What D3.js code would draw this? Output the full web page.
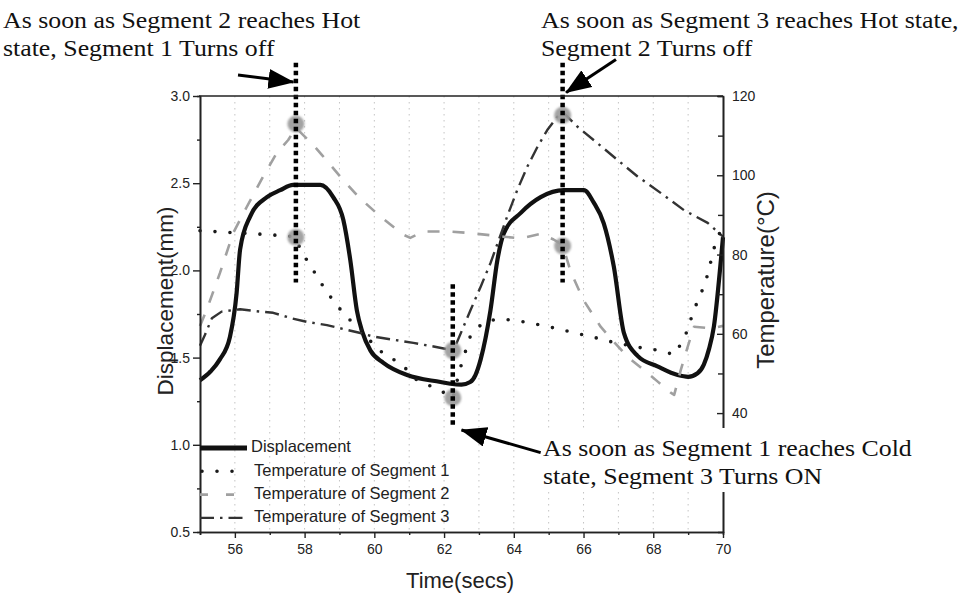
<!DOCTYPE html>
<html>
<head>
<meta charset="utf-8">
<script src="https://cdn.jsdelivr.net/npm/d3@7"></script>
<style>
  body { margin: 0; background: #fff; }
  svg { display: block; }
</style>
</head>
<body>
<svg id="chart" width="973" height="597"></svg>
<script>
// ---- data -------------------------------------------------------------
const timeTicks = [56, 58, 60, 62, 64, 66, 68, 70];
const timeMinorTicks = [55, 57, 59, 61, 63, 65, 67, 69];
const gridTimes = [56, 57, 58, 59, 60, 61, 62, 63, 64, 65, 66, 67, 68, 69];
const dispTicks = [0.5, 1.0, 1.5, 2.0, 2.5, 3.0];
const dispMinorTicks = [0.75, 1.25, 1.75, 2.25, 2.75];
const tempTicks = [40, 60, 80, 100, 120];
const tempMinorTicks = [50, 70, 90, 110];

// displacement (mm) vs time (s)
const displacement = [
  [55.0, 1.37], [55.3, 1.42], [55.57, 1.49], [55.86, 1.62], [56.05, 1.87],
  [56.15, 2.12], [56.44, 2.31], [56.92, 2.42], [57.3, 2.46], [57.67, 2.49],
  [58.0, 2.49], [58.45, 2.49], [58.82, 2.42], [59.11, 2.29], [59.31, 2.06],
  [59.5, 1.77], [59.65, 1.65], [59.89, 1.54], [60.26, 1.47], [60.94, 1.40],
  [61.9, 1.36], [62.18, 1.35], [62.5, 1.345], [62.75, 1.36], [62.9, 1.40],
  [63.05, 1.49], [63.33, 1.77], [63.53, 2.06], [63.71, 2.21], [64.2, 2.33],
  [64.77, 2.42], [65.43, 2.46], [66.01, 2.46], [66.29, 2.39], [66.58, 2.27],
  [66.87, 2.02], [67.16, 1.64], [67.55, 1.51], [68.12, 1.45], [68.7, 1.40],
  [69.0, 1.39], [69.27, 1.41], [69.45, 1.46], [69.6, 1.55], [69.74, 1.68],
  [69.94, 2.06], [70.0, 2.19]
];

// temperatures (°C) vs time (s)
const seg1Temp = [
  [55.0, 86.0], [56.0, 85.5], [57.0, 85.0], [57.7, 84.5], [58.0, 79.5],
  [58.3, 75.3], [58.6, 71.0], [58.95, 66.9], [59.3, 63.5], [59.7, 60.5],
  [60.0, 56.8], [60.4, 54.2], [60.75, 52.6], [61.2, 48.5], [61.95, 45.4],
  [62.25, 43.7], [62.45, 50.9], [62.6, 55.2], [62.75, 59.3], [63.1, 62.7],
  [63.5, 63.7], [63.9, 63.5], [64.3, 63.0], [64.77, 62.2], [65.2, 61.4],
  [65.63, 60.5], [66.0, 59.7], [66.5, 58.7], [66.87, 57.8], [67.7, 56.4],
  [68.2, 55.8], [68.6, 54.7], [68.9, 59.0], [69.05, 63.0], [69.25, 67.8],
  [69.45, 71.9], [69.6, 76.1], [69.7, 80.4], [69.85, 84.5], [70.0, 87.0]
];
const seg2Temp = [
  [55.0, 62.0], [55.19, 66.0], [55.57, 75.3], [55.95, 85.4], [56.34, 92.0],
  [56.81, 99.7], [57.2, 105.6], [57.53, 108.9], [57.75, 112.0], [58.25, 107.6],
  [58.5, 105.1], [59.02, 99.7], [59.54, 94.6], [60.17, 89.6], [60.83, 85.0],
  [61.03, 84.2], [61.41, 85.8], [62.18, 85.8], [62.76, 85.4], [63.71, 84.5],
  [64.2, 84.1], [64.77, 85.2], [65.14, 83.8], [65.4, 82.4], [65.63, 75.7],
  [66.0, 68.5], [66.49, 61.8], [66.87, 58.0], [67.26, 54.2], [67.73, 50.9],
  [68.12, 48.0], [68.51, 45.1], [68.6, 44.6], [68.79, 50.9], [68.99, 56.8],
  [69.17, 61.8], [69.66, 61.4], [70.0, 62.0]
];
const seg3Temp = [
  [55.0, 57.0], [55.14, 59.7], [55.34, 63.9], [55.62, 65.6], [56.15, 66.2],
  [56.52, 65.8], [57.1, 65.3], [57.59, 64.0], [58.07, 63.0], [58.64, 62.2],
  [59.02, 61.4], [59.6, 60.2], [59.97, 59.3], [60.55, 58.5], [61.12, 57.7],
  [61.7, 56.8], [62.27, 55.8], [62.76, 66.0], [63.05, 71.9], [63.33, 77.8],
  [63.81, 89.6], [64.1, 96.3], [64.39, 102.2], [64.68, 107.2], [64.96, 111.4],
  [65.25, 114.8], [65.4, 116.0], [65.82, 112.3], [66.4, 108.1], [66.97, 103.9],
  [67.55, 99.7], [68.22, 95.5], [68.88, 91.2], [69.56, 88.0], [70.0, 84.5]
];

// switching events: time, highlighted points (mm), extent of the marker line (mm)
const eventTimes = [57.75, 62.25, 65.4];
const eventPoints = [[2.84, 2.19], [1.54, 1.27], [2.89, 2.14]];
const eventSpans = [[3.19, 1.93], [1.92, 1.10], [3.19, 1.93]];

// annotation arrows: [tailTime, tailMm, headTime, headMm]
const arrows = [
  [56.09, 3.12, 57.68, 3.08],
  [66.93, 3.21, 65.5, 3.02],
  [64.77, 0.955, 62.5, 1.085]
];

const legendLabels = ["Displacement", "Temperature of Segment 1",
                      "Temperature of Segment 2", "Temperature of Segment 3"];

// ---- layout -----------------------------------------------------------
const svg = d3.select("#chart");
const x = d3.scaleLinear().domain([55, 70]).range([200, 723]);
const yL = d3.scaleLinear().domain([0.5, 3.0]).range([532, 96]);
const yR = d3.scaleLinear().domain([10, 120]).range([532, 96]);

const sans = "'Liberation Sans', Arial, sans-serif";
const serif = "'Liberation Serif', 'Times New Roman', serif";

const styles = [
  { stroke: "#111", width: 4.2, dash: null, cap: "butt" },
  { stroke: "#1a1a1a", width: 3.6, dash: "0,15", cap: "round" },
  { stroke: "#a0a0a0", width: 2.6, dash: "12,13", cap: "butt" },
  { stroke: "#333", width: 2.4, dash: "14,6,2.5,6", cap: "butt" }
];

// ---- grid ----------------------------------------------------------------
svg.append("g").selectAll("line").data(gridTimes).join("line")
  .attr("x1", d => x(d)).attr("x2", d => x(d))
  .attr("y1", yL(3.0)).attr("y2", yL(0.5))
  .attr("stroke", "#c4c4c4").attr("stroke-width", 1)
  .attr("stroke-dasharray", "1.5,4.5");

// ---- curves --------------------------------------------------------------
const lineL = d3.line().x(d => x(d[0])).y(d => yL(d[1])).curve(d3.curveMonotoneX);
const lineR = d3.line().x(d => x(d[0])).y(d => yR(d[1]));

const series = [
  { data: displacement, gen: lineL, st: styles[0] },
  { data: seg3Temp, gen: lineR, st: styles[3] },
  { data: seg2Temp, gen: lineR, st: styles[2] },
  { data: seg1Temp, gen: lineR, st: styles[1] }
];
series.forEach(s => {
  svg.append("path").datum(s.data)
    .attr("d", s.gen)
    .attr("fill", "none")
    .attr("stroke", s.st.stroke)
    .attr("stroke-width", s.st.width)
    .attr("stroke-linecap", s.st.cap)
    .attr("stroke-linejoin", "round")
    .attr("stroke-dasharray", s.st.dash);
});

// ---- event markers -------------------------------------------------------
const defs = svg.append("defs");
defs.append("filter").attr("id", "soft")
  .append("feGaussianBlur").attr("stdDeviation", 0.9);
defs.append("marker").attr("id", "head")
  .attr("viewBox", "0 0 26 20").attr("refX", 25).attr("refY", 10)
  .attr("markerWidth", 26).attr("markerHeight", 20)
  .attr("markerUnits", "userSpaceOnUse").attr("orient", "auto")
  .append("path").attr("d", "M0,0 L26,10 L0,20 Z").attr("fill", "#000");

eventTimes.forEach((t, i) => {
  eventPoints[i].forEach(v => {
    svg.append("circle")
      .attr("cx", x(t)).attr("cy", yL(v)).attr("r", 8.5)
      .attr("fill", "#9a9a9a").attr("opacity", 0.9)
      .attr("filter", "url(#soft)");
  });
  svg.append("line")
    .attr("x1", x(t)).attr("x2", x(t))
    .attr("y1", yL(eventSpans[i][0])).attr("y2", yL(eventSpans[i][1]))
    .attr("stroke", "#000").attr("stroke-width", 4.5)
    .attr("stroke-dasharray", "4.5,3.5");
});

// ---- axes ----------------------------------------------------------------
function styleAxis(g) {
  g.select(".domain").attr("stroke", "#222").attr("stroke-width", 1.6);
  g.selectAll(".tick line").attr("stroke", "#222").attr("stroke-width", 1.4);
  g.selectAll(".tick text").attr("fill", "#222")
    .style("font-family", sans).style("font-size", "14px");
}

// frame top
svg.append("line")
  .attr("x1", x.range()[0] - 1).attr("x2", x.range()[1])
  .attr("y1", yL(3.0)).attr("y2", yL(3.0))
  .attr("stroke", "#222").attr("stroke-width", 1.6);

svg.append("g").attr("transform", `translate(0,${yL(0.5)})`)
  .call(d3.axisBottom(x).tickValues(timeMinorTicks).tickSize(3).tickFormat(""))
  .call(styleAxis);
svg.append("g").attr("transform", `translate(0,${yL(0.5)})`)
  .call(d3.axisBottom(x).tickValues(timeTicks).tickSize(6).tickSizeOuter(0)
        .tickPadding(6).tickFormat(d3.format("d")))
  .call(styleAxis);

svg.append("g").attr("transform", `translate(${x(55)},0)`)
  .call(d3.axisLeft(yL).tickValues(dispMinorTicks).tickSize(3).tickFormat(""))
  .call(styleAxis);
svg.append("g").attr("transform", `translate(${x(55)},0)`)
  .call(d3.axisLeft(yL).tickValues(dispTicks).tickSize(7).tickSizeOuter(0)
        .tickPadding(3).tickFormat(d3.format(".1f")))
  .call(styleAxis);

svg.append("g").attr("transform", `translate(${x(70)},0)`)
  .call(d3.axisRight(yR).tickValues(tempMinorTicks).tickSize(-5).tickFormat(""))
  .call(styleAxis);
svg.append("g").attr("transform", `translate(${x(70)},0)`)
  .call(d3.axisRight(yR).tickValues(tempTicks).tickSize(-6).tickSizeOuter(0)
        .tickPadding(9).tickFormat(d3.format("d")))
  .call(styleAxis);

// axis titles
svg.append("text")
  .attr("transform", "translate(460,582)")
  .attr("text-anchor", "middle").attr("dominant-baseline", "middle")
  .style("font-family", sans).style("font-size", "22px").attr("fill", "#222")
  .text("Time(secs)");
svg.append("text")
  .attr("transform", "translate(167,301) rotate(-90)")
  .attr("text-anchor", "middle").attr("dominant-baseline", "middle")
  .style("font-family", sans).style("font-size", "22.5px").attr("fill", "#222")
  .text("Displacement(mm)");
svg.append("text")
  .attr("transform", "translate(768,280) rotate(-90)")
  .attr("text-anchor", "middle").attr("dominant-baseline", "middle")
  .style("font-family", sans).style("font-size", "24px").attr("fill", "#222")
  .text("Temperature(°C)");

// ---- legend --------------------------------------------------------------
const legend = svg.append("g");
legendLabels.forEach((label, i) => {
  const yy = 448 + i * 23.3;
  const st = styles[i];
  legend.append("line")
    .attr("x1", i === 1 ? 202 : 200).attr("x2", 247)
    .attr("y1", yy).attr("y2", yy)
    .attr("stroke", st.stroke)
    .attr("stroke-width", i === 0 ? 5 : st.width)
    .attr("stroke-linecap", st.cap)
    .attr("stroke-dasharray", i === 2 ? "8,18" : st.dash);
  legend.append("text")
    .attr("x", i === 0 ? 251 : 254).attr("y", yy)
    .attr("dominant-baseline", "middle")
    .style("font-family", sans).style("font-size", "16.5px").attr("fill", "#222")
    .text(label);
});

// ---- annotations ---------------------------------------------------------
// white backing behind the lower note (it sits over the right axis)
svg.append("rect")
  .attr("x", 538).attr("y", 428).attr("width", 400).attr("height", 64)
  .attr("fill", "#fff");

arrows.forEach(a => {
  svg.append("line")
    .attr("x1", x(a[0])).attr("y1", yL(a[1]))
    .attr("x2", x(a[2])).attr("y2", yL(a[3]))
    .attr("stroke", "#000").attr("stroke-width", 3)
    .attr("marker-end", "url(#head)");
});

const notes = [
  { x: 3, y: 28, t: "As soon as Segment 2 reaches Hot" },
  { x: 3, y: 56, t: "state, Segment 1 Turns off" },
  { x: 541, y: 28, t: "As soon as Segment 3 reaches Hot state," },
  { x: 541, y: 56, t: "Segment 2 Turns off" },
  { x: 543, y: 456, t: "As soon as Segment 1 reaches Cold" },
  { x: 543, y: 484, t: "state, Segment 3 Turns ON" }
];
notes.forEach(n => {
  svg.append("text")
    .attr("transform", `translate(${n.x},${n.y}) scale(1.1,1)`)
    .style("font-family", serif).style("font-size", "23.5px").attr("fill", "#111")
    .text(n.t);
});
</script>
</body>
</html>
